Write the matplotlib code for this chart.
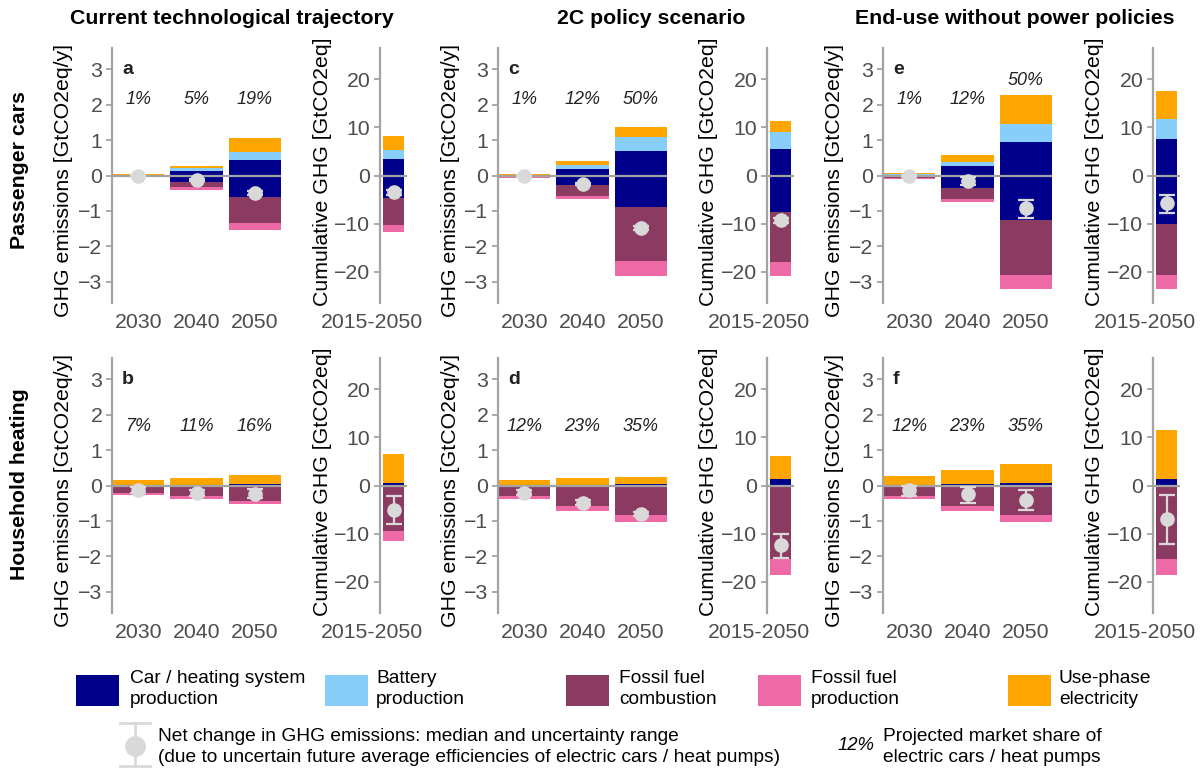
import matplotlib
matplotlib.use("Agg")
import matplotlib.pyplot as plt
import matplotlib.transforms as mtransforms
from matplotlib.patches import Rectangle
from matplotlib.lines import Line2D
import numpy as np

plt.rcParams['font.family'] = ['Liberation Sans', 'DejaVu Sans']

# ---------------------------------------------------------------- data
years = ["2030", "2040", "2050"]
period = ["2015-2050"]
panels = ["a", "b", "c", "d", "e", "f"]          # a/b: current, c/d: 2C, e/f: end-use
scenarios = ["Current technological trajectory", "2C policy scenario",
             "End-use without power policies"]
sectors = ["Passenger cars", "Household heating"]

# annual change in GHG emissions [GtCO2eq/y], rows = panels a..f, cols = years
car_prod_pos = np.array([[0.01, 0.13, 0.44], [0.00, 0.01, 0.03],
                         [0.01, 0.19, 0.68], [0.01, 0.02, 0.05],
                         [0.02, 0.26, 0.96], [0.01, 0.04, 0.07]])
battery_prod = np.array([[0.01, 0.07, 0.23], [0.00, 0.00, 0.00],
                         [0.01, 0.12, 0.41], [0.00, 0.00, 0.00],
                         [0.01, 0.13, 0.50], [0.00, 0.00, 0.00]])
use_electricity = np.array([[0.03, 0.08, 0.39], [0.15, 0.20, 0.27],
                            [0.03, 0.09, 0.27], [0.14, 0.19, 0.18],
                            [0.04, 0.20, 0.80], [0.26, 0.41, 0.55]])
car_prod_neg = np.array([[-0.01, -0.17, -0.60], [0.00, 0.00, 0.00],
                         [-0.02, -0.27, -0.89], [0.00, 0.00, 0.00],
                         [-0.02, -0.36, -1.26], [0.00, 0.00, 0.00]])
fuel_combustion = np.array([[-0.02, -0.16, -0.74], [-0.21, -0.31, -0.43],
                            [-0.03, -0.30, -1.53], [-0.30, -0.57, -0.83],
                            [-0.04, -0.29, -1.54], [-0.30, -0.57, -0.83]])
fuel_production = np.array([[-0.01, -0.08, -0.20], [-0.07, -0.08, -0.10],
                            [-0.02, -0.09, -0.43], [-0.09, -0.14, -0.19],
                            [-0.03, -0.10, -0.41], [-0.09, -0.14, -0.19]])
net_median = np.array([[-0.01, -0.12, -0.50], [-0.12, -0.20, -0.24],
                       [-0.01, -0.25, -1.48], [-0.21, -0.48, -0.80],
                       [-0.01, -0.15, -0.93], [-0.14, -0.24, -0.41]])
net_low = np.array([[-0.03, -0.15, -0.55], [-0.20, -0.29, -0.36],
                    [-0.03, -0.28, -1.53], [-0.28, -0.55, -0.86],
                    [-0.03, -0.27, -1.21], [-0.29, -0.48, -0.69]])
net_high = np.array([[0.01, -0.09, -0.45], [-0.05, -0.12, -0.11],
                     [0.01, -0.22, -1.43], [-0.14, -0.41, -0.74],
                     [0.01, -0.03, -0.70], [0.00, -0.05, -0.14]])

# cumulative change 2015-2050 [GtCO2eq], one value per panel a..f
cum_car_prod_pos = np.array([3.5, 0.6, 5.6, 1.4, 7.5, 1.4])
cum_battery_prod = np.array([1.8, 0.0, 3.4, 0.0, 4.2, 0.0])
cum_use_electricity = np.array([2.9, 5.95, 2.4, 4.8, 5.9, 10.2])
cum_car_prod_neg = np.array([-4.7, 0.0, -7.5, 0.0, -10.0, 0.0])
cum_fuel_combustion = np.array([-5.5, -9.4, -10.5, -15.2, -10.6, -15.2])
cum_fuel_production = np.array([-1.6, -2.1, -2.8, -3.4, -2.9, -3.4])
cum_median = np.array([-3.5, -5.0, -9.3, -12.4, -5.8, -7.0])
cum_low = np.array([-4.0, -7.9, -9.8, -15.0, -7.8, -12.1])
cum_high = np.array([-3.0, -2.1, -8.8, -10.0, -4.0, -1.9])

# projected market share of electric cars / heat pumps
market_share = [["1%", "5%", "19%"], ["7%", "11%", "16%"],
                ["1%", "12%", "50%"], ["12%", "23%", "35%"],
                ["1%", "12%", "50%"], ["12%", "23%", "35%"]]

# ---------------------------------------------------------------- style
C_CAR = "#00008B"
C_BAT = "#87CEFA"
C_COMB = "#8B3A62"
C_FPROD = "#EE6AA7"
C_ELEC = "#FFA500"
C_NET = "#D9D9D9"
C_AXIS = "#A3A3A3"
C_TICK = "#4D4D4D"
FS = 15.3

W, H = 1204, 772
fig = plt.figure(figsize=(W / 100, H / 100), dpi=100)


def px_axes(left, top, width, height):
    return fig.add_axes([left / W, 1 - (top + height) / H, width / W, height / H])


def style(ax):
    for s in ("top", "right", "bottom"):
        ax.spines[s].set_visible(False)
    ax.spines["left"].set_color(C_AXIS)
    ax.spines["left"].set_linewidth(1.6)
    ax.tick_params(axis="y", length=4, width=1.3, color=C_AXIS,
                   labelcolor=C_TICK, labelsize=FS, pad=3)
    ax.tick_params(axis="x", length=0, labelcolor=C_TICK, labelsize=FS, pad=7)
    ax.set_facecolor("none")


def stacked(ax, x, width, pos_parts, neg_parts):
    bottom = np.zeros(len(x))
    for vals, col in pos_parts:
        ax.bar(x, vals, width, bottom=bottom, color=col, linewidth=0, zorder=2)
        bottom = bottom + vals
    bottom = np.zeros(len(x))
    for vals, col in neg_parts:
        ax.bar(x, vals, width, bottom=bottom, color=col, linewidth=0, zorder=2)
        bottom = bottom + vals


annual_left = [112, 498, 883]
cum_left = [380, 767, 1153]
annual_w, cum_w = 169, 27
row_top = [48, 358]
row_h = 255
share_base = [2.16, 1.66]
period_shift = mtransforms.ScaledTranslation(-22 / 100, 0, fig.dpi_scale_trans)

for col in range(3):
    for row in range(2):
        p = col * 2 + row
        # ---- annual panel
        ax = px_axes(annual_left[col], row_top[row], annual_w, row_h)
        style(ax)
        x = np.arange(1, 4)
        stacked(ax, x, 0.9,
                [(car_prod_pos[p], C_CAR), (battery_prod[p], C_BAT),
                 (use_electricity[p], C_ELEC)],
                [(car_prod_neg[p], C_CAR), (fuel_combustion[p], C_COMB),
                 (fuel_production[p], C_FPROD)])
        ax.axhline(0, color=C_AXIS, lw=1.6, zorder=3)
        ax.errorbar(x, net_median[p],
                    yerr=[net_median[p] - net_low[p], net_high[p] - net_median[p]],
                    fmt="o", color=C_NET, ms=9.5, elinewidth=1.6,
                    capsize=6, capthick=1.6, zorder=5)
        tops = car_prod_pos[p] + battery_prod[p] + use_electricity[p]
        for i in range(3):
            ylab = max(share_base[row], tops[i] + 0.43)
            ax.text(x[i], ylab, market_share[p][i], ha="center", va="center",
                    style="italic", fontsize=13, color="#222222")
        ax.text(0.72, 3.0, panels[p], ha="left", va="center",
                fontweight="bold", fontsize=14, color="#222222")
        ax.set_xlim(0.55, 3.45)
        ax.set_ylim(-3.6, 3.6)
        ax.set_yticks([-3, -2, -1, 0, 1, 2, 3])
        ax.set_xticks(x)
        ax.set_xticklabels(years)
        ax.set_ylabel("GHG emissions [GtCO2eq/y]", fontsize=FS, va="center")
        ax.yaxis.set_label_coords(-48 / annual_w, 0.482)

        # ---- cumulative panel
        cx = cum_left[col]
        axc = px_axes(cx, row_top[row], cum_w, row_h)
        style(axc)
        xc = np.array([1])
        stacked(axc, xc, 0.85,
                [(cum_car_prod_pos[p:p + 1], C_CAR), (cum_battery_prod[p:p + 1], C_BAT),
                 (cum_use_electricity[p:p + 1], C_ELEC)],
                [(cum_car_prod_neg[p:p + 1], C_CAR), (cum_fuel_combustion[p:p + 1], C_COMB),
                 (cum_fuel_production[p:p + 1], C_FPROD)])
        axc.axhline(0, color=C_AXIS, lw=1.6, zorder=3)
        axc.errorbar(xc, cum_median[p:p + 1],
                     yerr=[cum_median[p:p + 1] - cum_low[p:p + 1],
                           cum_high[p:p + 1] - cum_median[p:p + 1]],
                     fmt="o", color=C_NET, ms=9.5, elinewidth=1.6,
                     capsize=6, capthick=1.6, zorder=5)
        axc.set_xlim(0.45, 1.55)
        axc.set_ylim(-26.5, 26.5)
        axc.set_yticks([-20, -10, 0, 10, 20])
        axc.set_xticks(xc)
        axc.set_xticklabels(period)
        for lbl in axc.get_xticklabels():
            lbl.set_transform(lbl.get_transform() + period_shift)
        axc.set_ylabel("Cumulative GHG [GtCO2eq]", fontsize=FS, va="center")
        axc.yaxis.set_label_coords(-58 / cum_w, 0.514)

# column and row titles
for cxp, title in zip([232, 651, 1015], scenarios):
    fig.text(cxp / W, 1 - 18 / H, title, ha="center", va="center",
             fontweight="bold", fontsize=FS)
for cyp, name in zip([170, 484], sectors):
    fig.text(20 / W, 1 - cyp / H, name, ha="center", va="center",
             rotation=90, fontweight="bold", fontsize=FS)

# ---------------------------------------------------------------- legend
lg = fig.add_axes([0, 0, 1, 1])
lg.set_xlim(0, W)
lg.set_ylim(H, 0)
lg.axis("off")
LFS = 13.8
keys = [(76, C_CAR, 130, "Car / heating system\nproduction"),
        (325, C_BAT, 376, "Battery\nproduction"),
        (566, C_COMB, 619, "Fossil fuel\ncombustion"),
        (758, C_FPROD, 811, "Fossil fuel\nproduction"),
        (1008, C_ELEC, 1059, "Use-phase\nelectricity")]
for kx, kc, tx, label in keys:
    lg.add_patch(Rectangle((kx, 675), 43, 31, facecolor=kc, edgecolor="none"))
    lg.text(tx, 689, label, ha="left", va="center", fontsize=LFS,
            linespacing=1.3)

# net-change key
lg.add_line(Line2D([135, 135], [723, 766], color=C_NET, lw=2))
lg.add_line(Line2D([120, 150], [723, 723], color=C_NET, lw=2))
lg.add_line(Line2D([120, 150], [766, 766], color=C_NET, lw=2))
lg.plot([135], [746], "o", color=C_NET, ms=14)
lg.text(158, 747, "Net change in GHG emissions: median and uncertainty range\n"
        "(due to uncertain future average efficiencies of electric cars / heat pumps)",
        ha="left", va="center", fontsize=LFS, linespacing=1.3)
lg.text(856, 746, "12%", ha="center", va="center", style="italic",
        fontsize=13.3)
lg.text(883, 747, "Projected market share of\nelectric cars / heat pumps",
        ha="left", va="center", fontsize=LFS, linespacing=1.3)

fig.savefig("out.png", dpi=100)
